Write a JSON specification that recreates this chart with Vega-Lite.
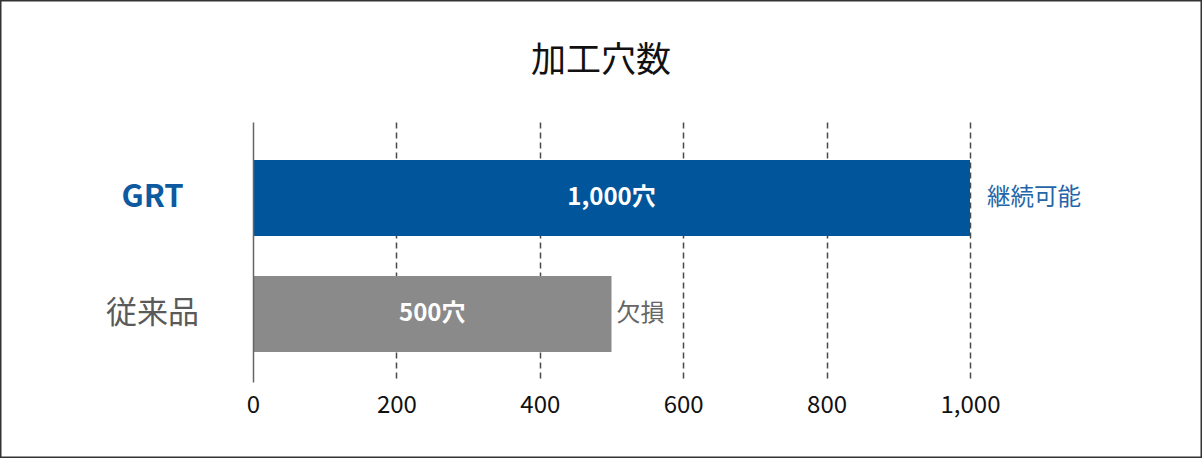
{
  "$schema": "https://vega.github.io/schema/vega-lite/v6.json",
  "width": 1202,
  "height": 458,
  "autosize": {"type": "none"},
  "padding": 0,
  "background": "white",
  "config": {
    "view": {"stroke": "#333333", "strokeWidth": 3},
    "font": "Noto Sans CJK JP"
  },
  "title": {
    "text": "加工穴数",
    "fontSize": 35,
    "fontWeight": "normal",
    "color": "#111111",
    "anchor": "middle",
    "frame": "group",
    "offset": -79,
    "font": "Noto Sans CJK JP"
  },
  "data": {
    "values": [
      {"product": "GRT", "holes": 1000, "label": "1,000穴", "note": "継続可能"},
      {"product": "従来品", "holes": 500, "label": "500穴", "note": "欠損"}
    ]
  },
  "resolve": {"axis": {"x": "independent"}},
  "encoding": {
    "y": {
      "field": "product",
      "type": "nominal",
      "sort": ["GRT", "従来品"],
      "scale": {"range": [122, 382], "paddingInner": 0.345, "paddingOuter": 0.293, "align": 0.559},
      "axis": {
        "orient": "left",
        "offset": -253,
        "title": null,
        "domain": true,
        "domainColor": "#666666",
        "domainWidth": 1.5,
        "ticks": false,
        "grid": false,
        "zindex": 1,
        "labelPadding": 101,
        "labelAlign": "center",
        "labelBaseline": "middle",
        "labelFont": "Noto Sans CJK JP",
        "labelFontSize": {"condition": {"test": "datum.value == 'GRT'", "value": 31}, "value": 31},
        "labelFontWeight": {"condition": {"test": "datum.value == 'GRT'", "value": "bold"}, "value": "normal"},
        "labelColor": {"condition": {"test": "datum.value == 'GRT'", "value": "#0d5aa0"}, "value": "#5a5a5a"}
      }
    }
  },
  "layer": [
    {
      "mark": {"type": "bar"},
      "encoding": {
        "x": {
          "field": "holes",
          "type": "quantitative",
          "scale": {"domain": [0, 1000], "range": [253, 970], "nice": false, "zero": true},
          "axis": {
            "orient": "top",
            "title": null,
            "values": [0, 200, 400, 600, 800, 1000],
            "domain": false,
            "ticks": false,
            "labels": false,
            "grid": true,
            "zindex": 0,
            "gridDash": [6, 4],
            "gridColor": "#4a4a4a",
            "gridWidth": 1.5,
            "gridOpacity": {"condition": {"test": "datum.value == 0", "value": 0}, "value": 1}
          }
        },
        "color": {
          "field": "product",
          "type": "nominal",
          "scale": {"domain": ["GRT", "従来品"], "range": ["#00559b", "#8a8a8a"]},
          "legend": null
        }
      }
    },
    {
      "transform": [{"calculate": "datum.holes / 2", "as": "mid"}],
      "mark": {"type": "text", "color": "white", "fontSize": 24, "fontWeight": "bold", "align": "center", "baseline": "middle", "font": "Noto Sans CJK JP"},
      "encoding": {
        "x": {
          "field": "mid",
          "type": "quantitative",
          "axis": {
            "orient": "bottom",
            "offset": -76,
            "title": null,
            "values": [0, 200, 400, 600, 800, 1000],
            "format": ",d",
            "domain": false,
            "ticks": false,
            "grid": false,
            "labelFlush": false,
            "labelPadding": 11,
            "labelFont": "Noto Sans CJK JP",
            "labelFontSize": 24,
            "labelColor": "#111111"
          }
        },
        "text": {"field": "label"}
      }
    },
    {
      "transform": [{"filter": "datum.product == 'GRT'"}],
      "mark": {"type": "text", "color": "#2566a8", "fontSize": 23.5, "align": "left", "baseline": "middle", "dx": 17, "font": "Noto Sans CJK JP"},
      "encoding": {
        "x": {"field": "holes", "type": "quantitative", "axis": null},
        "text": {"field": "note"}
      }
    },
    {
      "transform": [{"filter": "datum.product == '従来品'"}],
      "mark": {"type": "text", "color": "#666666", "fontSize": 24, "align": "left", "baseline": "middle", "dx": 5, "font": "Noto Sans CJK JP"},
      "encoding": {
        "x": {"field": "holes", "type": "quantitative", "axis": null},
        "text": {"field": "note"}
      }
    }
  ]
}
